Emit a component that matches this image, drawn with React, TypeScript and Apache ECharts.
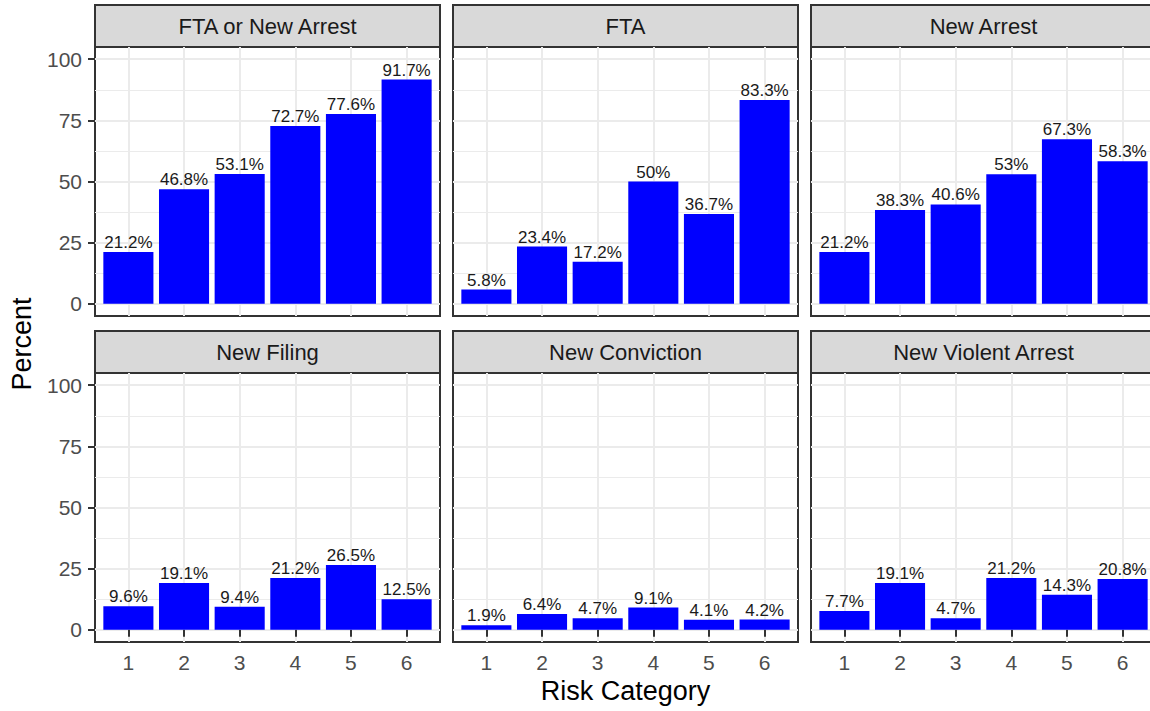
import React, { useEffect, useRef } from 'react';
import * as echarts from 'echarts';

const categories = [1, 2, 3, 4, 5, 6];
const panelTitles = ['FTA or New Arrest', 'FTA', 'New Arrest', 'New Filing', 'New Conviction', 'New Violent Arrest'];
const ftaOrNewArrest = [21.2, 46.8, 53.1, 72.7, 77.6, 91.7];
const fta = [5.8, 23.4, 17.2, 50, 36.7, 83.3];
const newArrest = [21.2, 38.3, 40.6, 53, 67.3, 58.3];
const newFiling = [9.6, 19.1, 9.4, 21.2, 26.5, 12.5];
const newConviction = [1.9, 6.4, 4.7, 9.1, 4.1, 4.2];
const newViolentArrest = [7.7, 19.1, 4.7, 21.2, 14.3, 20.8];
const panelValues = [ftaOrNewArrest, fta, newArrest, newFiling, newConviction, newViolentArrest];
const yTicks = [0, 25, 50, 75, 100];
const yMinorTicks = [12.5, 37.5, 62.5, 87.5];
const xTitle = 'Risk Category';
const yTitle = 'Percent';

const W = 1150;
const H = 711;
const panelLefts = [95, 453, 811];
const panelTops = [47, 373];
const panelW = 345;
const panelH = 269;
const stripH = 42;
const FONT = "'Liberation Sans', Arial, Helvetica, sans-serif";

function buildOption() {
  const grid: any[] = [];
  const xAxis: any[] = [];
  const yAxis: any[] = [];
  const series: any[] = [];
  const graphic: any[] = [];
  panelValues.forEach((vals, i) => {
    const col = i % 3;
    const row = Math.floor(i / 3);
    const left = panelLefts[col];
    const top = panelTops[row];
    grid.push({
      left, top, width: panelW, height: panelH,
      show: true, backgroundColor: '#FFFFFF', borderColor: '#333333', borderWidth: 2,
      containLabel: false, outerBoundsMode: 'none',
    });
    xAxis.push({
      type: 'value', gridIndex: i, min: 0.4, max: 6.6,
      axisLine: { show: false },
      axisTick: { show: row === 1, length: 7, lineStyle: { color: '#333333', width: 2 }, customValues: categories },
      axisLabel: { show: row === 1, customValues: categories, color: '#4D4D4D', fontSize: 21, fontFamily: FONT, margin: 10 },
      splitLine: { show: true, lineStyle: { color: '#EBEBEB', width: 2 } },
    });
    yAxis.push({
      type: 'value', gridIndex: i, min: -5, max: 105, position: 'left',
      axisLine: { show: false },
      axisTick: { show: col === 0, length: 7, lineStyle: { color: '#333333', width: 2 }, customValues: yTicks },
      axisLabel: { show: col === 0, customValues: yTicks, color: '#4D4D4D', fontSize: 21, fontFamily: FONT, margin: 13 },
      splitLine: { show: true, lineStyle: { color: '#EBEBEB', width: 2 } },
    });
    yAxis.push({
      type: 'value', gridIndex: i, min: -5, max: 105, position: 'left',
      axisLine: { show: false },
      axisTick: { show: false, customValues: yMinorTicks },
      axisLabel: { show: false, customValues: yMinorTicks },
      splitLine: { show: true, lineStyle: { color: '#EBEBEB', width: 1 } },
    });
    series.push({
      type: 'bar', xAxisIndex: i, yAxisIndex: 2 * i,
      data: categories.map((c, j) => [c, vals[j]]),
      barWidth: (0.9 * panelW) / 6.2,
      itemStyle: { color: '#0000FF' },
      label: {
        show: true, position: 'top', distance: 1,
        formatter: (p: any) => p.value[1] + '%',
        fontSize: 17, color: '#1A1A1A', fontFamily: FONT,
      },
    });
    graphic.push({
      type: 'rect',
      shape: { x: left, y: top - stripH, width: panelW, height: stripH },
      style: { fill: '#D9D9D9', stroke: '#333333', lineWidth: 2 },
    });
    graphic.push({
      type: 'text',
      x: left + panelW / 2, y: top - stripH / 2,
      style: { text: panelTitles[i], fontSize: 22, fontFamily: FONT, fill: '#1A1A1A', align: 'center', verticalAlign: 'middle' },
    });
  });
  graphic.push({
    type: 'text', x: 22, y: 344, rotation: Math.PI / 2,
    style: { text: yTitle, fontSize: 27, fontFamily: FONT, fill: '#000000', align: 'center', verticalAlign: 'middle' },
  });
  graphic.push({
    type: 'text', x: panelLefts[1] + panelW / 2, y: 691,
    style: { text: xTitle, fontSize: 27, fontFamily: FONT, fill: '#000000', align: 'center', verticalAlign: 'middle' },
  });
  return {
    animation: false,
    backgroundColor: '#FFFFFF',
    grid, xAxis, yAxis, series, graphic,
  };
}

export default function App() {
  const ref = useRef<HTMLDivElement>(null);
  useEffect(() => {
    if (!ref.current) return;
    const chart = echarts.init(ref.current, null, { renderer: 'svg' });
    chart.setOption(buildOption() as any);
    return () => chart.dispose();
  }, []);
  return <div ref={ref} style={{ position: 'absolute', left: 0, top: 0, width: W, height: H }} />;
}
